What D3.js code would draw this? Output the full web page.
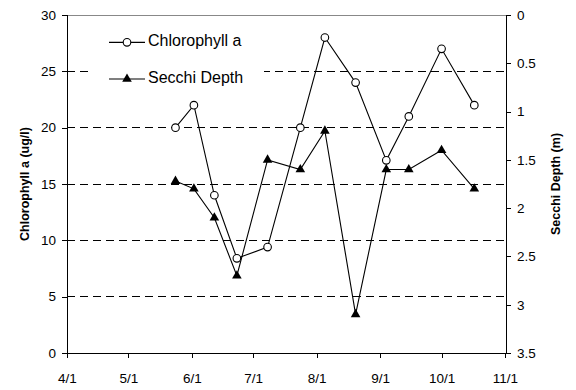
<!DOCTYPE html>
<html><head><meta charset="utf-8">
<script src="https://cdn.jsdelivr.net/npm/d3@7"></script>
<style>body{margin:0;background:#fff}svg{display:block}text{font-family:"Liberation Sans",Arial,sans-serif}</style>
</head><body><svg id="c" width="576" height="390"></svg>
<script>
const dates = ["2003-05-24","2003-06-02","2003-06-12","2003-06-23","2003-07-08","2003-07-24","2003-08-05","2003-08-20","2003-09-04","2003-09-15","2003-10-01","2003-10-17"];
const chlorophyll = [20,22,14,8.4,9.4,20,28,24,17.1,21,27,22];
const secchi = [1.72,1.8,2.1,2.7,1.5,1.6,1.2,3.1,1.6,1.6,1.4,1.8];
const xTicks = ["2003-04-01","2003-05-01","2003-06-01","2003-07-01","2003-08-01","2003-09-01","2003-10-01","2003-11-01"];
const leftTicks = [0,5,10,15,20,25,30];
const rightTicks = [0,0.5,1,1.5,2,2.5,3,3.5];
const seriesNames = ["Chlorophyll a","Secchi Depth"];

const parse = d3.timeParse("%Y-%m-%d");
const svg = d3.select("#c");
const L=67,R=506,T=15,B=353;
const x = d3.scaleTime().domain([parse(xTicks[0]),parse(xTicks[xTicks.length-1])]).range([L,R-1]);
const yL = d3.scaleLinear().domain([0,30]).range([B,T]);
const yR = d3.scaleLinear().domain([0,3.5]).range([T,B]);
const font = 13.5;

// gridlines
svg.append("g").selectAll("line").data(leftTicks.filter(v=>v>0&&v<30)).join("line")
  .attr("x1",L).attr("x2",R).attr("y1",d=>yL(d)).attr("y2",d=>yL(d))
  .attr("stroke","#000").attr("stroke-width",1).attr("stroke-dasharray","8,5").attr("shape-rendering","crispEdges");
svg.append("line").attr("x1",L).attr("x2",R).attr("y1",yL(30)).attr("y2",yL(30))
  .attr("stroke","#888").attr("stroke-width",1).attr("shape-rendering","crispEdges");

function styleAxis(g){
  g.select(".domain").attr("stroke","#000").attr("shape-rendering","crispEdges");
  g.selectAll(".tick line").attr("stroke","#000").attr("shape-rendering","crispEdges");
  g.selectAll("text").attr("font-size",font).attr("fill","#000").attr("font-family","Liberation Sans, Arial, sans-serif");
}
const gx = svg.append("g").attr("transform",`translate(0,${B})`)
  .call(d3.axisBottom(x).tickValues(xTicks.map(parse)).tickFormat(d3.timeFormat("%-m/%-d")).tickSizeOuter(0).tickSize(5).tickPadding(15));
styleAxis(gx);
const gl = svg.append("g").attr("transform",`translate(${L},0)`)
  .call(d3.axisLeft(yL).tickValues(leftTicks).tickFormat(d3.format("d")).tickSizeOuter(0).tickSize(5).tickPadding(6));
styleAxis(gl);
const gr = svg.append("g").attr("transform",`translate(${R},0)`)
  .call(d3.axisRight(yR).tickValues(rightTicks).tickFormat(d=>String(d)).tickSizeOuter(0).tickSize(5).tickPadding(6));
styleAxis(gr);

// axis titles
svg.append("text").attr("transform",`translate(29,${(T+B)/2}) rotate(-90)`).attr("text-anchor","middle")
  .attr("font-size",12.5).attr("font-weight","bold").text("Chlorophyll a (ug/l)");
svg.append("text").attr("transform",`translate(559.5,${(T+B)/2}) rotate(-90)`).attr("text-anchor","middle")
  .attr("font-size",12.5).attr("font-weight","bold").text("Secchi Depth (m)");

// legend background
svg.append("rect").attr("x",88).attr("y",22).attr("width",176).attr("height",70).attr("fill","#fff");

const chlData = dates.map((d,i)=>({x:parse(d),y:chlorophyll[i]}));
const secData = dates.map((d,i)=>({x:parse(d),y:secchi[i]}));
const line = d3.line();
svg.append("path").attr("d",line(chlData.map(d=>[x(d.x),yL(d.y)]))).attr("fill","none").attr("stroke","#000").attr("stroke-width",1.1);
svg.append("path").attr("d",line(secData.map(d=>[x(d.x),yR(d.y)]))).attr("fill","none").attr("stroke","#000").attr("stroke-width",1.1);
const tri = d3.symbol().type(d3.symbolTriangle).size(40);
svg.append("g").selectAll("path").data(secData).join("path")
  .attr("transform",d=>`translate(${x(d.x)},${yR(d.y)})`).attr("d",tri).attr("fill","#000");
svg.append("g").selectAll("circle").data(chlData).join("circle")
  .attr("cx",d=>x(d.x)).attr("cy",d=>yL(d.y)).attr("r",3.8).attr("fill","#fff").attr("stroke","#000").attr("stroke-width",1.1);

// legend
const lg = svg.append("g");
[0,1].forEach(i=>{
  const yy = 42.3 + i*36.7;
  lg.append("line").attr("x1",109).attr("x2",145).attr("y1",yy).attr("y2",yy).attr("stroke","#000").attr("stroke-width",1.2);
  if(i===0) lg.append("circle").attr("cx",127).attr("cy",yy).attr("r",3.8).attr("fill","#fff").attr("stroke","#000").attr("stroke-width",1.1);
  else lg.append("path").attr("transform",`translate(127,${yy})`).attr("d",tri).attr("fill","#000");
  lg.append("text").attr("x",148).attr("y",yy+4).attr("font-size",16).text(seriesNames[i]);
});
</script></body></html>
